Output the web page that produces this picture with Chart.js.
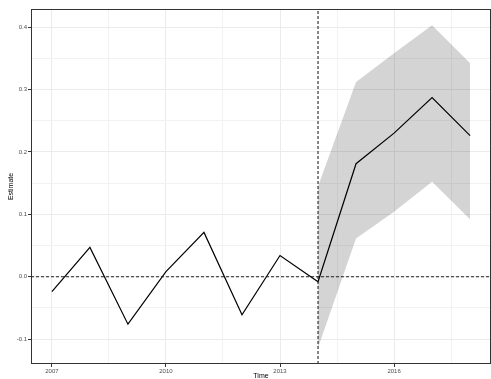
<!DOCTYPE html>
<html>
<head>
<meta charset="utf-8">
<script src="https://cdn.jsdelivr.net/npm/chart.js@4/dist/chart.umd.min.js"></script>
<style>
  html, body { margin: 0; padding: 0; background: #fff; }
  canvas { display: block; }
</style>
</head>
<body>
<canvas id="chart" width="491" height="379"></canvas>
<script>
// Yearly point estimates
const years = [2007, 2008, 2009, 2010, 2011, 2012, 2013, 2014, 2015, 2016, 2017, 2018];
const estimate = [-0.024, 0.047, -0.076, 0.008, 0.071, -0.061, 0.034, -0.008, 0.181, 0.230, 0.287, 0.226];

// Confidence band, post-treatment years only
const bandYears = [2014, 2015, 2016, 2017, 2018];
const bandUpper = [0.145, 0.312, 0.358, 0.403, 0.342];
const bandLower = [-0.114, 0.061, 0.104, 0.152, 0.092];

// Reference lines
const treatmentYear = 2014;
const baseline = 0;

// Axis ticks (major labelled, minor unlabelled gridlines)
const xMajorTicks = [2007, 2010, 2013, 2016];
const xMinorTicks = [2008.5, 2011.5, 2014.5, 2017.5];
const yMajorTicks = [-0.1, 0.0, 0.1, 0.2, 0.3, 0.4];
const yMinorTicks = [-0.05, 0.05, 0.15, 0.25, 0.35];

// 5% expansion of the data range on each side
function expand(lo, hi) {
  const pad = (hi - lo) * 0.05;
  return [lo - pad, hi + pad];
}
const [xMin, xMax] = expand(Math.min(...years), Math.max(...years));
const [yMin, yMax] = expand(
  Math.min(...estimate, ...bandLower),
  Math.max(...estimate, ...bandUpper)
);

const pts = (xs, ys) => xs.map((x, i) => ({ x, y: ys[i] }));

const isMajor = (list, v) => list.some(t => Math.abs(t - v) < 1e-9);

const GRID_MAJOR = '#ebebeb';
const GRID_MINOR = '#f2f2f2';
const TICK_TEXT = '#4d4d4d';
const FONT = 'Liberation Sans, Arial, Helvetica, sans-serif';

// Panel border around the plotting area
const panelBorder = {
  id: 'panelBorder',
  afterDatasetsDraw(chart) {
    const { ctx, chartArea: a } = chart;
    ctx.save();
    ctx.strokeStyle = '#333333';
    ctx.lineWidth = 1;
    ctx.strokeRect(Math.round(a.left) + 0.5, Math.round(a.top) + 0.5,
                   Math.round(a.right - a.left) - 1, Math.round(a.bottom - a.top) - 1);
    ctx.restore();
  }
};

new Chart(document.getElementById('chart'), {
  type: 'line',
  data: {
    datasets: [
      {
        label: 'upper',
        data: pts(bandYears, bandUpper),
        borderWidth: 0,
        pointRadius: 0,
        fill: '+1',
        backgroundColor: 'rgba(0,0,0,0.17)',
        order: 4
      },
      {
        label: 'lower',
        data: pts(bandYears, bandLower),
        borderWidth: 0,
        pointRadius: 0,
        fill: false,
        order: 3
      },
      {
        label: 'Estimate',
        data: pts(years, estimate),
        borderColor: '#000000',
        borderWidth: 1.2,
        pointRadius: 0,
        fill: false,
        tension: 0,
        order: 2
      },
      {
        label: 'baseline',
        data: [{ x: xMin, y: baseline }, { x: xMax, y: baseline }],
        borderColor: '#222222',
        borderWidth: 1.1,
        borderDash: [3, 2],
        pointRadius: 0,
        fill: false,
        order: 1
      },
      {
        label: 'treatment',
        data: [{ x: treatmentYear, y: yMin }, { x: treatmentYear, y: yMax }],
        borderColor: '#222222',
        borderWidth: 1.1,
        borderDash: [3, 2],
        pointRadius: 0,
        fill: false,
        order: 0
      }
    ]
  },
  options: {
    responsive: false,
    animation: false,
    layout: { padding: { top: 9, right: 0, left: 0, bottom: 0 } },
    plugins: {
      legend: { display: false },
      tooltip: { enabled: false }
    },
    scales: {
      x: {
        type: 'linear',
        min: xMin,
        max: xMax,
        afterBuildTicks(scale) {
          scale.ticks = [...xMajorTicks, ...xMinorTicks].sort((a, b) => a - b).map(v => ({ value: v }));
        },
        afterFit(scale) { scale.height = 15; },
        ticks: {
          autoSkip: false,
          maxRotation: 0,
          padding: 1,
          color: TICK_TEXT,
          font: { family: FONT, size: 6 },
          callback: v => isMajor(xMajorTicks, v) ? String(v) : ''
        },
        grid: {
          color: c => isMajor(xMajorTicks, c.tick.value) ? GRID_MAJOR : GRID_MINOR,
          lineWidth: 1,
          tickLength: 3,
          tickColor: c => isMajor(xMajorTicks, c.tick.value) ? '#333333' : 'rgba(0,0,0,0)',
          tickWidth: 1
        },
        border: { display: false },
        title: {
          display: true,
          text: 'Time',
          color: '#000000',
          font: { family: FONT, size: 7, lineHeight: 0.8 },
          padding: { top: 0, bottom: 0 }
        }
      },
      y: {
        type: 'linear',
        min: yMin,
        max: yMax,
        afterBuildTicks(scale) {
          scale.ticks = [...yMajorTicks, ...yMinorTicks].sort((a, b) => a - b).map(v => ({ value: v }));
        },
        afterFit(scale) { scale.width = 31; },
        ticks: {
          autoSkip: false,
          padding: 1,
          color: TICK_TEXT,
          font: { family: FONT, size: 6 },
          callback: v => isMajor(yMajorTicks, v) ? v.toFixed(1) : ''
        },
        grid: {
          color: c => isMajor(yMajorTicks, c.tick.value) ? GRID_MAJOR : GRID_MINOR,
          lineWidth: 1,
          tickLength: 3,
          tickColor: c => isMajor(yMajorTicks, c.tick.value) ? '#333333' : 'rgba(0,0,0,0)',
          tickWidth: 1
        },
        border: { display: false },
        title: {
          display: true,
          text: 'Estimate',
          color: '#000000',
          font: { family: FONT, size: 7 },
          padding: { top: 7, bottom: 0 }
        }
      }
    }
  },
  plugins: [panelBorder]
});
</script>
</body>
</html>
